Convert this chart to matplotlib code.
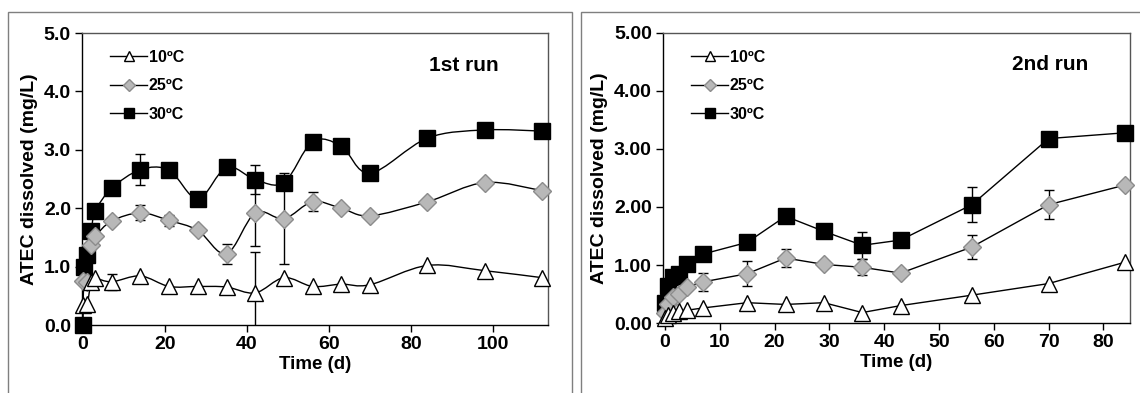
import numpy as np
import matplotlib
matplotlib.use("Agg")
import matplotlib.pyplot as plt
from matplotlib.path import Path
from matplotlib.patches import PathPatch, Rectangle
from matplotlib.lines import Line2D

plt.rcParams['font.family'] = ['Liberation Sans', 'DejaVu Sans']
plt.rcParams['font.weight'] = 'bold'

# ---------------- data: 1st run ----------------
t1_sq = [0, 0.25, 1, 2, 3, 7, 14, 21, 28, 35, 42, 49, 56, 63, 70, 84, 98, 112]
r1_30 = [0.0, 1.0, 1.2, 1.61, 1.95, 2.34, 2.66, 2.65, 2.16, 2.7, 2.49, 2.44, 3.14, 3.06, 2.6, 3.2, 3.34, 3.32]
r1_30_err = [0, 0, 0, 0, 0, 0, 0.26, 0, 0, 0, 0.25, 0.1, 0, 0, 0, 0, 0, 0]
t1 = [0, 1, 2, 3, 7, 14, 21, 28, 35, 42, 49, 56, 63, 70, 84, 98, 112]
r1_25 = [0.75, 0.74, 1.37, 1.52, 1.78, 1.92, 1.79, 1.62, 1.22, 1.92, 1.82, 2.11, 2.0, 1.87, 2.11, 2.44, 2.3]
r1_25_err = [0, 0, 0, 0, 0, 0.13, 0.1, 0, 0.17, 0.56, 0.78, 0.16, 0, 0, 0, 0, 0]
r1_10 = [0.34, 0.36, 0.74, 0.8, 0.74, 0.84, 0.66, 0.66, 0.65, 0.55, 0.81, 0.66, 0.7, 0.69, 1.02, 0.93, 0.81]
r1_10_err = [0, 0, 0, 0, 0.14, 0, 0, 0, 0, 0.7, 0, 0, 0, 0, 0, 0, 0]

# ---------------- data: 2nd run ----------------
t2 = [0, 0.5, 1.5, 2.5, 4, 7, 15, 22, 29, 36, 43, 56, 70, 84]
r2_30 = [0.35, 0.64, 0.8, 0.84, 1.01, 1.19, 1.39, 1.84, 1.58, 1.34, 1.43, 2.04, 3.18, 3.28]
r2_30_err = [0, 0, 0, 0, 0, 0, 0, 0, 0, 0.23, 0, 0.3, 0, 0]
r2_25 = [0.17, 0.33, 0.44, 0.5, 0.62, 0.71, 0.85, 1.12, 1.01, 0.96, 0.86, 1.31, 2.04, 2.38]
r2_25_err = [0, 0, 0, 0, 0, 0.16, 0.22, 0.16, 0, 0.14, 0, 0.21, 0.25, 0]
r2_10 = [0.08, 0.13, 0.18, 0.2, 0.22, 0.26, 0.35, 0.32, 0.35, 0.18, 0.3, 0.48, 0.68, 1.05]
r2_10_err = [0, 0, 0, 0, 0, 0, 0, 0, 0, 0, 0, 0, 0, 0]

labels = ['10ºC', '25ºC', '30ºC']
run_titles = ['1st run', '2nd run']
ylab = 'ATEC dissolved (mg/L)'
xlab = 'Time (d)'

W, H = 1140, 393
fig = plt.figure(figsize=(W / 100, H / 100), dpi=100)

# panel frames
for (x0, x1) in [(8, 572), (581, 1145)]:
    fig.patches.append(Rectangle((x0 / W, -0.05), (x1 - x0) / W, 1 - 12 / H + 0.05,
                                 transform=fig.transFigure, fill=False,
                                 edgecolor='#7f7f7f', linewidth=1.0))

styles = {
    '10': dict(marker='^', mfc='white', mec='black', ms=12, mew=1.0),
    '25': dict(marker='D', mfc='#b8b8b8', mec='#8c8c8c', ms=9.5, mew=1.0),
    '30': dict(marker='s', mfc='black', mec='black', ms=11, mew=1.0),
}


def smooth_path(x, y):
    pts = np.column_stack([x, y]).astype(float)
    n = len(pts)
    verts = [pts[0]]
    codes = [Path.MOVETO]
    for i in range(n - 1):
        p0 = pts[i - 1] if i > 0 else pts[i]
        p1 = pts[i]
        p2 = pts[i + 1]
        p3 = pts[i + 2] if i + 2 < n else pts[i + 1]
        c1 = p1 + (p2 - p0) / 6.0
        c2 = p2 - (p3 - p1) / 6.0
        verts += [c1, c2, p2]
        codes += [Path.CURVE4] * 3
    return Path(np.array(verts), codes)


def draw_series(ax, t, v, e, key, smooth):
    st = styles[key]
    if smooth:
        ax.add_patch(PathPatch(smooth_path(t, v), fill=False, edgecolor='black',
                               linewidth=1.0, zorder=2, transform=ax.transData))
    else:
        ax.plot(t, v, color='black', linewidth=1.0, zorder=2)
    ee = np.array(e, dtype=float)
    mask = ee > 0
    tt = np.array(t, dtype=float)[mask]
    vv = np.array(v, dtype=float)[mask]
    if mask.any():
        ax.errorbar(tt, vv, yerr=ee[mask], fmt='none', ecolor='black',
                    elinewidth=1.0, capsize=3.5, capthick=1.0, zorder=2.5)
    z = {'30': 3, '25': 4, '10': 5}[key]
    ax.plot(t, v, linestyle='none', zorder=z, clip_on=False, **st)


def setup(ax, xlim, xticks, fmt, title, tx):
    ax.set_xlim(*xlim)
    ax.set_ylim(0, 5)
    ax.set_xticks(xticks)
    ax.set_yticks(np.arange(0, 5.01, 1.0))
    ax.set_yticklabels([fmt % v for v in np.arange(0, 5.01, 1.0)])
    ax.tick_params(direction='out', length=5, width=1, labelsize=14, pad=3)
    for lab in ax.get_xticklabels() + ax.get_yticklabels():
        lab.set_fontweight('bold')
    for sp in ax.spines.values():
        sp.set_linewidth(1.0)
        sp.set_color('black')
    ax.spines['top'].set_color('#555555')
    ax.spines['right'].set_color('#555555')
    ax.set_ylabel(ylab, fontsize=14, fontweight='bold', labelpad=4)
    ax.set_xlabel(xlab, fontsize=13.5, fontweight='bold', labelpad=2)
    ax.text(tx, 0.89, title, transform=ax.transAxes, ha='center', va='center',
            fontsize=15, fontweight='bold')
    handles = [Line2D([], [], color='black', linewidth=1.0, marker=styles[k]['marker'],
                      mfc=styles[k]['mfc'], mec=styles[k]['mec'],
                      ms=styles[k]['ms'] * 0.6, mew=1.0) for k in ['10', '25', '30']]
    leg = ax.legend(handles, labels, loc='upper left', bbox_to_anchor=(0.04, 0.975),
                    frameon=False, fontsize=11.5, handlelength=2.3, handletextpad=0.1,
                    labelspacing=0.85, borderaxespad=0.2)
    for txt in leg.get_texts():
        txt.set_fontweight('bold')


# left panel
ax1 = fig.add_axes([82 / W, 1 - 325 / H, (548 - 82) / W, (325 - 33) / H])
draw_series(ax1, t1_sq, r1_30, r1_30_err, '30', True)
draw_series(ax1, t1, r1_25, r1_25_err, '25', True)
draw_series(ax1, t1, r1_10, r1_10_err, '10', True)
setup(ax1, (-0.25, 113.4), [0, 20, 40, 60, 80, 100], '%.1f', run_titles[0], 0.82)

# right panel
ax2 = fig.add_axes([663 / W, 1 - 323 / H, (1130 - 663) / W, (323 - 33) / H])
draw_series(ax2, t2, r2_30, r2_30_err, '30', False)
draw_series(ax2, t2, r2_25, r2_25_err, '25', False)
draw_series(ax2, t2, r2_10, r2_10_err, '10', False)
setup(ax2, (-0.36, 84.85), [0, 10, 20, 30, 40, 50, 60, 70, 80], '%.2f', run_titles[1], 0.83)

fig.savefig('out.png', dpi=100)
